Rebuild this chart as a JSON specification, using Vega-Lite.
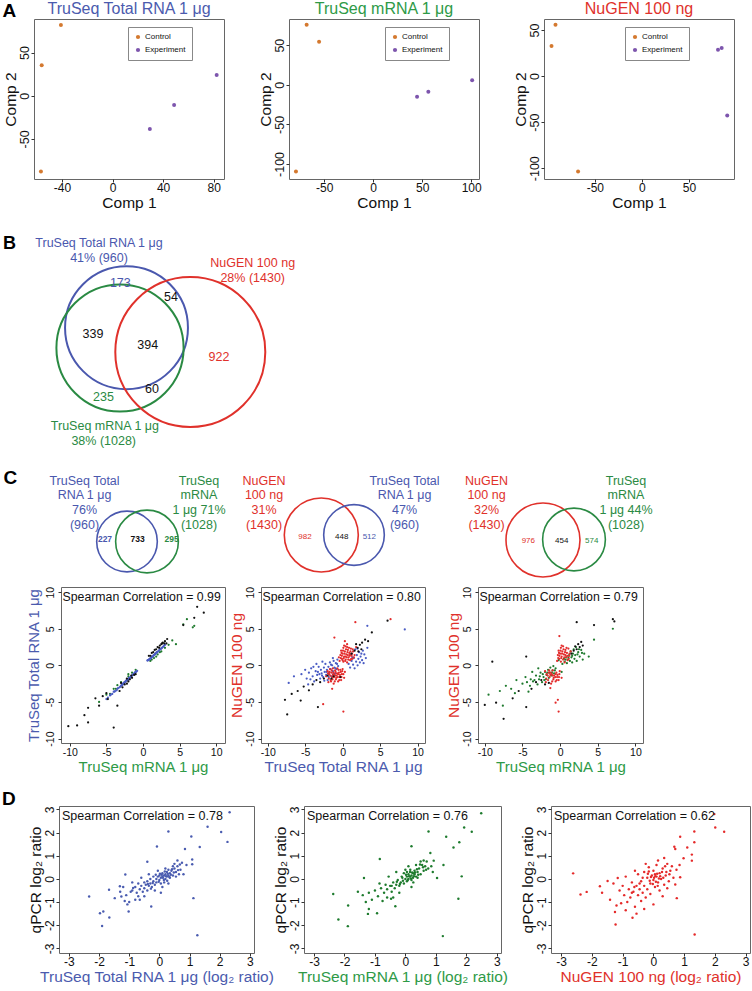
{
  "$schema": "https://vega.github.io/schema/vega-lite/v6.json",
  "background": "white",
  "padding": {"left": 2, "top": 0, "right": 0, "bottom": 0},
  "config": {
    "font": "Liberation Sans",
    "view": {"stroke": "#666", "strokeWidth": 1},
    "axis": {"domain": false, "grid": false, "tickColor": "#333", "tickSize": 3, "tickWidth": 1, "tickCount": 12, "labelColor": "#111", "titleColor": "#111", "titleFontWeight": "normal", "labelOverlap": false, "labelFlush": false, "labelPadding": 0, "titlePadding": 0},
    "axisY": {"labelAngle": -90, "labelAlign": "center", "labelBaseline": "bottom", "labelOverlap": false},
    "axisX": {"labelOverlap": false},
    "legend": {"labelFontSize": 8, "symbolSize": 18, "symbolType": "circle", "rowPadding": 5, "padding": 6, "strokeColor": "#888", "fillColor": "white", "labelColor": "#111", "symbolStrokeWidth": 0, "labelOffset": 3},
    "title": {"fontWeight": "normal"}
  },
  "resolve": {"scale": {"color": "independent", "size": "independent"}, "legend": {"color": "independent", "size": "independent"}},
  "datasets": {
    "pca": [
      {"panel": "A1", "group": "Control", "c1": -40.9, "c2": 81.9},
      {"panel": "A1", "group": "Control", "c1": -56.1, "c2": 35.3},
      {"panel": "A1", "group": "Control", "c1": -56.7, "c2": -87.8},
      {"panel": "A1", "group": "Experiment", "c1": 29.5, "c2": -38.7},
      {"panel": "A1", "group": "Experiment", "c1": 48.7, "c2": -10.9},
      {"panel": "A1", "group": "Experiment", "c1": 82.4, "c2": 24.0},
      {"panel": "A2", "group": "Control", "c1": -67.9, "c2": 75.8},
      {"panel": "A2", "group": "Control", "c1": -55.2, "c2": 54.2},
      {"panel": "A2", "group": "Control", "c1": -78.8, "c2": -109.6},
      {"panel": "A2", "group": "Experiment", "c1": 44.8, "c2": -15.2},
      {"panel": "A2", "group": "Experiment", "c1": 56.3, "c2": -8.9},
      {"panel": "A2", "group": "Experiment", "c1": 101.0, "c2": 5.6},
      {"panel": "A3", "group": "Control", "c1": -91.8, "c2": 55.8},
      {"panel": "A3", "group": "Control", "c1": -96.0, "c2": 32.6},
      {"panel": "A3", "group": "Control", "c1": -67.8, "c2": -103.6},
      {"panel": "A3", "group": "Experiment", "c1": 80.9, "c2": 28.6},
      {"panel": "A3", "group": "Experiment", "c1": 84.8, "c2": 30.5},
      {"panel": "A3", "group": "Experiment", "c1": 90.7, "c2": -42.8}
    ],
    "vennB": [
      {"kind": "circle", "set": "total", "n": 960, "x": 125.5, "y": 327.7},
      {"kind": "circle", "set": "mrna", "n": 1028, "x": 119, "y": 348},
      {"kind": "circle", "set": "nugen", "n": 1430, "x": 189.3, "y": 352},
      {"kind": "label", "set": "total", "x": 98, "y": 243, "t": "TruSeq Total RNA 1 μg"},
      {"kind": "label", "set": "total", "x": 98, "y": 258, "t": "41% (960)"},
      {"kind": "label", "set": "nugen", "x": 251.7, "y": 263.3, "t": "NuGEN 100 ng"},
      {"kind": "label", "set": "nugen", "x": 251.7, "y": 278.3, "t": "28% (1430)"},
      {"kind": "label", "set": "mrna", "x": 103.9, "y": 426, "t": "TruSeq mRNA 1 μg"},
      {"kind": "label", "set": "mrna", "x": 102.7, "y": 441, "t": "38% (1028)"},
      {"kind": "label", "set": "total", "x": 119.3, "y": 282.7, "t": "173"},
      {"kind": "label", "set": "both", "x": 170, "y": 297, "t": "54"},
      {"kind": "label", "set": "both", "x": 92, "y": 334, "t": "339"},
      {"kind": "label", "set": "both", "x": 146.7, "y": 345, "t": "394"},
      {"kind": "label", "set": "nugen", "x": 218, "y": 356.7, "t": "922"},
      {"kind": "label", "set": "both", "x": 151, "y": 389, "t": "60"},
      {"kind": "label", "set": "mrna", "x": 102.4, "y": 396.7, "t": "235"}
    ],
    "vennC": [
      {"kind": "circle", "set": "total", "n": 960, "x": 126, "y": 542.5},
      {"kind": "circle", "set": "mrna", "n": 1028, "x": 146, "y": 542.5},
      {"kind": "circle", "set": "nugen", "n": 1430, "x": 320.3, "y": 536},
      {"kind": "circle", "set": "total", "n": 960, "x": 353, "y": 536},
      {"kind": "circle", "set": "nugen", "n": 1430, "x": 542, "y": 541},
      {"kind": "circle", "set": "mrna", "n": 1028, "x": 573, "y": 540.5},
      {"kind": "label", "set": "total", "x": 83.5, "y": 481.7, "t": "TruSeq Total"},
      {"kind": "label", "set": "total", "x": 83.5, "y": 496.3, "t": "RNA 1 μg"},
      {"kind": "label", "set": "total", "x": 83.5, "y": 511, "t": "76%"},
      {"kind": "label", "set": "total", "x": 83.5, "y": 526, "t": "(960)"},
      {"kind": "label", "set": "mrna", "x": 198, "y": 481.7, "t": "TruSeq"},
      {"kind": "label", "set": "mrna", "x": 198, "y": 496.3, "t": "mRNA"},
      {"kind": "label", "set": "mrna", "x": 198, "y": 511, "t": "1 μg 71%"},
      {"kind": "label", "set": "mrna", "x": 198, "y": 526, "t": "(1028)"},
      {"kind": "label", "set": "nugen", "x": 263, "y": 481.7, "t": "NuGEN"},
      {"kind": "label", "set": "nugen", "x": 263, "y": 496.3, "t": "100 ng"},
      {"kind": "label", "set": "nugen", "x": 263, "y": 511, "t": "31%"},
      {"kind": "label", "set": "nugen", "x": 263, "y": 526, "t": "(1430)"},
      {"kind": "label", "set": "total", "x": 403.5, "y": 481.7, "t": "TruSeq Total"},
      {"kind": "label", "set": "total", "x": 403.5, "y": 496.3, "t": "RNA 1 μg"},
      {"kind": "label", "set": "total", "x": 403.5, "y": 511, "t": "47%"},
      {"kind": "label", "set": "total", "x": 403.5, "y": 526, "t": "(960)"},
      {"kind": "label", "set": "nugen", "x": 485.5, "y": 481.7, "t": "NuGEN"},
      {"kind": "label", "set": "nugen", "x": 485.5, "y": 496.3, "t": "100 ng"},
      {"kind": "label", "set": "nugen", "x": 485.5, "y": 511, "t": "32%"},
      {"kind": "label", "set": "nugen", "x": 485.5, "y": 526, "t": "(1430)"},
      {"kind": "label", "set": "mrna", "x": 625, "y": 481.7, "t": "TruSeq"},
      {"kind": "label", "set": "mrna", "x": 625, "y": 496.3, "t": "mRNA"},
      {"kind": "label", "set": "mrna", "x": 625, "y": 511, "t": "1 μg 44%"},
      {"kind": "label", "set": "mrna", "x": 625, "y": 526, "t": "(1028)"},
      {"kind": "numb", "set": "total", "x": 104, "y": 540, "t": "227"},
      {"kind": "numb", "set": "both", "x": 136.7, "y": 540, "t": "733"},
      {"kind": "numb", "set": "mrna", "x": 170.7, "y": 540, "t": "295"},
      {"kind": "num", "set": "nugen", "x": 304, "y": 537.7, "t": "982"},
      {"kind": "num", "set": "both", "x": 340.7, "y": 537.7, "t": "448"},
      {"kind": "num", "set": "total", "x": 368.3, "y": 537.7, "t": "512"},
      {"kind": "num", "set": "nugen", "x": 527.3, "y": 541.7, "t": "976"},
      {"kind": "num", "set": "both", "x": 560.7, "y": 541.7, "t": "454"},
      {"kind": "num", "set": "mrna", "x": 590.7, "y": 541.7, "t": "574"}
    ],
    "c1": [
      {"g":"g","x":-3,"y":-2.3},{"g":"g","x":-2.5,"y":-2.3},{"g":"g","x":-4,"y":-3.2},{"g":"g","x":-3.5,"y":-2.7},{"g":"g","x":-2.0,"y":-1.5},{"g":"g","x":-1.5,"y":-1.0},{"g":"g","x":-5,"y":-4.0},{"g":"g","x":-4.5,"y":-3.9},{"g":"g","x":-2,"y":-1.2},{"g":"g","x":-1,"y":-0.6},{"g":"g","x":1,"y":0.6},{"g":"g","x":1.5,"y":1.0},{"g":"g","x":2,"y":1.5},{"g":"g","x":2.5,"y":1.9},{"g":"g","x":3,"y":2.4},{"g":"g","x":3.5,"y":2.8},{"g":"g","x":4,"y":3.4},{"g":"g","x":1.2,"y":0.8},{"g":"g","x":1.8,"y":1.2},{"g":"g","x":2.3,"y":1.8},{"g":"g","x":6,"y":6.3},{"g":"g","x":6.8,"y":5.2},{"g":"g","x":5.5,"y":5.6},{"g":"g","x":7,"y":5.4},{"g":"g","x":4.5,"y":2.9},{"g":"g","x":-6,"y":-5.0},{"g":"g","x":-3.7,"y":-3.2},
      {"g":"b","x":-4.5,"y":-4.1},{"g":"b","x":-4.2,"y":-3.9},{"g":"b","x":-4.0,"y":-3.6},{"g":"b","x":-3.8,"y":-3.5},{"g":"b","x":-3.6,"y":-3.4},{"g":"b","x":-3.4,"y":-3.1},{"g":"b","x":-3.2,"y":-3.0},{"g":"b","x":-3.0,"y":-2.8},{"g":"b","x":-2.9,"y":-2.6},{"g":"b","x":-2.8,"y":-2.6},{"g":"b","x":-2.7,"y":-2.5},{"g":"b","x":-2.6,"y":-2.4},{"g":"b","x":-2.5,"y":-2.3},{"g":"b","x":-2.4,"y":-2.2},{"g":"b","x":-2.3,"y":-2.1},{"g":"b","x":-2.2,"y":-2.0},{"g":"b","x":-2.1,"y":-1.9},{"g":"b","x":-2.0,"y":-1.9},{"g":"b","x":-1.9,"y":-1.7},{"g":"b","x":-1.8,"y":-1.7},{"g":"b","x":-1.7,"y":-1.6},{"g":"b","x":-1.6,"y":-1.5},{"g":"b","x":-1.5,"y":-1.4},{"g":"b","x":-1.4,"y":-1.3},{"g":"b","x":-1.3,"y":-1.2},{"g":"b","x":-1.2,"y":-1.1},{"g":"b","x":-1.1,"y":-1.0},{"g":"b","x":-1.0,"y":-0.9},{"g":"b","x":-0.9,"y":-0.85},{"g":"b","x":-0.8,"y":-0.75},
      {"g":"b","x":-4.4,"y":-4.0},{"g":"b","x":-3.9,"y":-3.6},{"g":"b","x":-3.5,"y":-3.2},{"g":"b","x":-3.1,"y":-2.9},{"g":"b","x":-2.85,"y":-2.7},{"g":"b","x":-2.65,"y":-2.45},{"g":"b","x":-2.45,"y":-2.3},{"g":"b","x":-2.25,"y":-2.05},{"g":"b","x":-2.05,"y":-1.95},{"g":"b","x":-1.85,"y":-1.75},{"g":"b","x":-1.65,"y":-1.55},{"g":"b","x":-1.45,"y":-1.35},{"g":"b","x":-1.25,"y":-1.15},{"g":"b","x":-1.05,"y":-0.95},{"g":"b","x":-5.0,"y":-4.6},{"g":"b","x":-4.8,"y":-4.4},
      {"g":"b","x":0.6,"y":0.65},{"g":"b","x":0.7,"y":0.7},{"g":"b","x":0.8,"y":0.8},{"g":"b","x":0.9,"y":0.85},{"g":"b","x":1.0,"y":0.95},{"g":"b","x":1.1,"y":1.0},{"g":"b","x":1.2,"y":1.15},{"g":"b","x":1.3,"y":1.2},{"g":"b","x":1.4,"y":1.3},{"g":"b","x":1.5,"y":1.4},{"g":"b","x":1.6,"y":1.5},{"g":"b","x":1.7,"y":1.6},{"g":"b","x":1.8,"y":1.7},{"g":"b","x":1.9,"y":1.8},{"g":"b","x":2.0,"y":1.85},{"g":"b","x":2.2,"y":2.05},{"g":"b","x":2.4,"y":2.25},{"g":"b","x":2.6,"y":2.4},{"g":"b","x":2.8,"y":2.6},{"g":"b","x":3.0,"y":2.8},
      {"g":"b","x":0.65,"y":0.7},{"g":"b","x":0.85,"y":0.8},{"g":"b","x":1.05,"y":1.0},{"g":"b","x":1.25,"y":1.2},{"g":"b","x":1.45,"y":1.35},{"g":"b","x":1.65,"y":1.55},{"g":"b","x":1.85,"y":1.75},{"g":"b","x":2.1,"y":1.95},{"g":"b","x":2.3,"y":2.15},{"g":"b","x":2.5,"y":2.3},{"g":"b","x":2.7,"y":2.5},{"g":"b","x":2.9,"y":2.7},
      {"g":"k","x":-10.2,"y":-8.3},{"g":"k","x":-9,"y":-8.2},{"g":"k","x":-8,"y":-6.8},{"g":"k","x":-7.5,"y":-5.8},{"g":"k","x":-6.5,"y":-4.5},{"g":"k","x":-6,"y":-5.5},{"g":"k","x":-5.5,"y":-4.2},{"g":"k","x":-5,"y":-3.8},{"g":"k","x":-4.8,"y":-4.6},{"g":"k","x":-4,"y":-8.5},{"g":"k","x":-3.5,"y":-5.5},{"g":"k","x":-3.2,"y":-3.5},{"g":"k","x":-2.8,"y":-3.0},{"g":"k","x":-2.5,"y":-2.6},{"g":"k","x":-2,"y":-2.2},{"g":"k","x":-1.8,"y":-1.9},{"g":"k","x":-1.5,"y":-1.7},{"g":"k","x":-1,"y":-1.2},{"g":"k","x":0.8,"y":1.3},{"g":"k","x":1.2,"y":1.7},{"g":"k","x":1.6,"y":2.1},{"g":"k","x":2,"y":2.5},{"g":"k","x":2.3,"y":2.7},{"g":"k","x":2.7,"y":3.1},{"g":"k","x":3,"y":3.3},{"g":"k","x":3.3,"y":3.6},{"g":"k","x":2.5,"y":2.9},{"g":"k","x":7.4,"y":8},{"g":"k","x":8.3,"y":7.2},{"g":"k","x":7,"y":6.5},{"g":"k","x":5.5,"y":5.5},{"g":"k","x":-7.5,"y":-7.8},{"g":"k","x":-3,"y":-2.4},{"g":"k","x":-2.2,"y":-2.5},
      {"g":"k","x":-2.2,"y":-1.8},{"g":"k","x":-1.6,"y":-1.4},{"g":"k","x":-1.2,"y":-1.3},{"g":"k","x":1.0,"y":1.3},{"g":"k","x":1.4,"y":1.8},{"g":"k","x":1.8,"y":2.2},{"g":"k","x":2.2,"y":2.4},{"g":"k","x":2.9,"y":3.0},{"g":"k","x":3.2,"y":3.0},{"g":"k","x":2.6,"y":3.0}
    ],
    "c2": [
      {"g":"b","x":-5.5,"y":-1.2},{"g":"b","x":-5,"y":-0.6},{"g":"b","x":-4.8,"y":-1.8},{"g":"b","x":-4.5,"y":-1.0},{"g":"b","x":-4.2,"y":-0.4},{"g":"b","x":-4,"y":-1.5},{"g":"b","x":-3.8,"y":-2.2},{"g":"b","x":-3.6,"y":-0.8},{"g":"b","x":-3.4,"y":-1.3},{"g":"b","x":-3.2,"y":-0.2},{"g":"b","x":-3,"y":-1.8},{"g":"b","x":-2.9,"y":-0.6},{"g":"b","x":-2.8,"y":-1.1},{"g":"b","x":-2.6,"y":-1.6},{"g":"b","x":-2.5,"y":-0.3},{"g":"b","x":-2.4,"y":-0.9},{"g":"b","x":-2.3,"y":0.2},{"g":"b","x":-2.2,"y":-1.3},{"g":"b","x":-2.1,"y":-0.6},{"g":"b","x":-2,"y":-2.0},{"g":"b","x":-1.9,"y":-0.2},{"g":"b","x":-1.8,"y":-1.0},{"g":"b","x":-1.7,"y":0.4},{"g":"b","x":-1.6,"y":-0.5},{"g":"b","x":-1.5,"y":-1.5},{"g":"b","x":-1.4,"y":0.0},{"g":"b","x":-1.3,"y":-0.8},{"g":"b","x":-1.2,"y":0.6},{"g":"b","x":-1.1,"y":-0.3},{"g":"b","x":-1.0,"y":-1.1},{"g":"b","x":-0.9,"y":0.3},{"g":"b","x":-0.8,"y":-0.5},{"g":"b","x":-0.7,"y":0.8},{"g":"b","x":-0.6,"y":-0.1},{"g":"b","x":-2.7,"y":0.5},{"g":"b","x":-3.5,"y":0.2},{"g":"b","x":-6.5,"y":-1.5},{"g":"b","x":-7.2,"y":-2.4},{"g":"b","x":-4.6,"y":-2.6},{"g":"b","x":-1.3,"y":1.0},
      {"g":"b","x":-4.3,"y":-1.9},{"g":"b","x":-3.9,"y":-0.2},{"g":"b","x":-3.3,"y":-0.9},{"g":"b","x":-2.75,"y":-1.4},{"g":"b","x":-2.15,"y":-0.9},{"g":"b","x":-1.85,"y":-1.6},{"g":"b","x":-1.55,"y":0.1},{"g":"b","x":-1.25,"y":-1.2},{"g":"b","x":-0.95,"y":-0.4},{"g":"b","x":-0.75,"y":0.2},{"g":"b","x":-2.45,"y":-2.1},{"g":"b","x":-3.1,"y":-1.2},{"g":"b","x":2.5,"y":1.6},{"g":"b","x":1.3,"y":1.1},{"g":"b","x":2.8,"y":0.3},{"g":"b","x":2.0,"y":2.3},
      {"g":"b","x":0.8,"y":0.2},{"g":"b","x":1.0,"y":-0.3},{"g":"b","x":1.2,"y":0.6},{"g":"b","x":1.4,"y":0.1},{"g":"b","x":1.5,"y":1.0},{"g":"b","x":1.6,"y":-0.4},{"g":"b","x":1.8,"y":0.5},{"g":"b","x":1.9,"y":1.4},{"g":"b","x":2.0,"y":0.0},{"g":"b","x":2.1,"y":0.9},{"g":"b","x":2.2,"y":1.8},{"g":"b","x":2.3,"y":0.4},{"g":"b","x":2.4,"y":1.2},{"g":"b","x":2.6,"y":0.7},{"g":"b","x":2.7,"y":2.0},{"g":"b","x":2.9,"y":1.5},{"g":"b","x":3.1,"y":1.0},{"g":"b","x":3.3,"y":2.4},{"g":"b","x":1.1,"y":1.5},{"g":"b","x":1.7,"y":2.2},{"g":"b","x":3.3,"y":5.4},{"g":"b","x":8.3,"y":4.9},
      {"g":"r","x":-0.4,"y":0.6},{"g":"r","x":-0.3,"y":1.4},{"g":"r","x":-0.2,"y":2.0},{"g":"r","x":-0.1,"y":0.9},{"g":"r","x":0.0,"y":1.6},{"g":"r","x":0.1,"y":2.4},{"g":"r","x":0.1,"y":0.5},{"g":"r","x":0.2,"y":1.2},{"g":"r","x":0.3,"y":1.9},{"g":"r","x":0.4,"y":0.8},{"g":"r","x":0.4,"y":2.6},{"g":"r","x":0.5,"y":1.5},{"g":"r","x":0.6,"y":0.4},{"g":"r","x":0.7,"y":2.1},{"g":"r","x":0.8,"y":1.1},{"g":"r","x":0.9,"y":1.7},{"g":"r","x":1.0,"y":0.7},{"g":"r","x":1.1,"y":2.3},{"g":"r","x":1.2,"y":1.3},{"g":"r","x":1.3,"y":0.9},{"g":"r","x":1.4,"y":1.9},{"g":"r","x":1.6,"y":1.4},{"g":"r","x":1.8,"y":2.5},{"g":"r","x":0.3,"y":3.3},{"g":"r","x":-0.5,"y":1.1},{"g":"r","x":0.6,"y":2.9},{"g":"r","x":-1.1,"y":3.8},{"g":"r","x":1.7,"y":5.9},{"g":"r","x":6.4,"y":6.3},
      {"g":"r","x":-0.25,"y":1.0},{"g":"r","x":-0.15,"y":1.7},{"g":"r","x":0.0,"y":0.7},{"g":"r","x":0.05,"y":2.0},{"g":"r","x":0.15,"y":1.0},{"g":"r","x":0.25,"y":1.6},{"g":"r","x":0.35,"y":0.6},{"g":"r","x":0.45,"y":2.2},{"g":"r","x":0.55,"y":1.1},{"g":"r","x":0.65,"y":1.8},{"g":"r","x":0.75,"y":0.8},{"g":"r","x":0.85,"y":2.4},{"g":"r","x":0.95,"y":1.3},{"g":"r","x":1.05,"y":1.9},{"g":"r","x":1.15,"y":0.9},{"g":"r","x":1.25,"y":1.6},{"g":"r","x":1.35,"y":2.2},{"g":"r","x":1.5,"y":1.1},{"g":"r","x":0.2,"y":2.7},{"g":"r","x":0.7,"y":1.4},{"g":"r","x":0.4,"y":1.2},{"g":"r","x":1.0,"y":1.5},{"g":"r","x":-0.1,"y":1.3},{"g":"r","x":0.6,"y":2.5},
      {"g":"r","x":-2.2,"y":-1.5},{"g":"r","x":-2.0,"y":-0.8},{"g":"r","x":-1.9,"y":-2.3},{"g":"r","x":-1.8,"y":-1.2},{"g":"r","x":-1.7,"y":-0.5},{"g":"r","x":-1.6,"y":-2.0},{"g":"r","x":-1.5,"y":-1.0},{"g":"r","x":-1.4,"y":-1.6},{"g":"r","x":-1.3,"y":-0.4},{"g":"r","x":-1.2,"y":-2.5},{"g":"r","x":-1.1,"y":-1.2},{"g":"r","x":-1.0,"y":-0.7},{"g":"r","x":-0.9,"y":-1.9},{"g":"r","x":-0.8,"y":-1.4},{"g":"r","x":-0.7,"y":-0.4},{"g":"r","x":-0.6,"y":-2.2},{"g":"r","x":-0.5,"y":-1.0},{"g":"r","x":-0.4,"y":-1.6},{"g":"r","x":-0.3,"y":-0.6},{"g":"r","x":-0.2,"y":-2.0},{"g":"r","x":-0.1,"y":-1.2},{"g":"r","x":0.0,"y":-0.5},{"g":"r","x":0.2,"y":-1.7},{"g":"r","x":0.3,"y":-0.9},{"g":"r","x":-1.4,"y":-3.2},{"g":"r","x":0.1,"y":-6.3},{"g":"r","x":-2.6,"y":-5.3},
      {"g":"r","x":-1.95,"y":-1.1},{"g":"r","x":-1.85,"y":-1.8},{"g":"r","x":-1.75,"y":-0.9},{"g":"r","x":-1.65,"y":-1.4},{"g":"r","x":-1.55,"y":-2.2},{"g":"r","x":-1.45,"y":-0.7},{"g":"r","x":-1.35,"y":-1.9},{"g":"r","x":-1.25,"y":-1.0},{"g":"r","x":-1.15,"y":-1.6},{"g":"r","x":-1.05,"y":-2.2},{"g":"r","x":-0.95,"y":-0.9},{"g":"r","x":-0.85,"y":-1.7},{"g":"r","x":-0.75,"y":-1.1},{"g":"r","x":-0.65,"y":-1.6},{"g":"r","x":-0.55,"y":-0.6},{"g":"r","x":-0.45,"y":-2.0},{"g":"r","x":-0.35,"y":-1.3},{"g":"r","x":-0.25,"y":-0.9},{"g":"r","x":-0.15,"y":-1.6},{"g":"r","x":-0.05,"y":-0.8},{"g":"r","x":0.1,"y":-1.2},{"g":"r","x":-1.0,"y":-1.4},{"g":"r","x":-0.6,"y":-1.2},{"g":"r","x":-1.3,"y":-1.3},
      {"g":"k","x":-7.7,"y":-4.7},{"g":"k","x":-7.4,"y":-6.7},{"g":"k","x":-6.8,"y":-3.9},{"g":"k","x":-6,"y":-3.5},{"g":"k","x":-5.6,"y":-4.8},{"g":"k","x":-5.2,"y":-2.9},{"g":"k","x":-4.5,"y":-3.4},{"g":"k","x":-4,"y":-2.6},{"g":"k","x":-3.3,"y":-5.7},{"g":"k","x":-3.5,"y":-2.0},{"g":"k","x":-3,"y":-2.3},{"g":"k","x":-2.5,"y":-1.8},{"g":"k","x":-2,"y":-1.4},{"g":"k","x":-1.5,"y":-1.8},{"g":"k","x":-1.2,"y":-1.5},{"g":"k","x":1.2,"y":1.6},{"g":"k","x":1.6,"y":2.0},{"g":"k","x":2.0,"y":2.4},{"g":"k","x":2.3,"y":2.8},{"g":"k","x":2.6,"y":3.1},{"g":"k","x":3.0,"y":3.5},{"g":"k","x":3.4,"y":3.3},{"g":"k","x":3.9,"y":4.5},{"g":"k","x":2.1,"y":1.9},{"g":"k","x":1.8,"y":2.9},{"g":"k","x":2.5,"y":2.2},{"g":"k","x":6,"y":6.1},{"g":"k","x":-0.3,"y":-1.6}
    ],
    "c3": [
      {"g":"g","x":-4,"y":-2.8},{"g":"g","x":-3.6,"y":-2.2},{"g":"g","x":-3.2,"y":-1.4},{"g":"g","x":-3,"y":-2.6},{"g":"g","x":-2.8,"y":-1.9},{"g":"g","x":-2.6,"y":-1.0},{"g":"g","x":-2.4,"y":-2.3},{"g":"g","x":-2.2,"y":-1.6},{"g":"g","x":-2,"y":-0.9},{"g":"g","x":-1.9,"y":-1.9},{"g":"g","x":-1.8,"y":-1.3},{"g":"g","x":-1.6,"y":-0.6},{"g":"g","x":-1.5,"y":-1.7},{"g":"g","x":-1.4,"y":-1.0},{"g":"g","x":-1.3,"y":-0.3},{"g":"g","x":-1.2,"y":-1.4},{"g":"g","x":-1.0,"y":-0.7},{"g":"g","x":-0.9,"y":-0.1},{"g":"g","x":-0.8,"y":-1.1},{"g":"g","x":-0.6,"y":-0.4},{"g":"g","x":0.6,"y":0.5},{"g":"g","x":0.8,"y":1.1},{"g":"g","x":0.9,"y":0.3},{"g":"g","x":1.0,"y":0.8},{"g":"g","x":1.2,"y":1.4},{"g":"g","x":1.3,"y":0.6},{"g":"g","x":1.4,"y":1.9},{"g":"g","x":1.5,"y":1.1},{"g":"g","x":1.6,"y":0.4},{"g":"g","x":1.7,"y":1.6},{"g":"g","x":1.8,"y":2.2},{"g":"g","x":1.9,"y":0.9},{"g":"g","x":2.0,"y":1.4},{"g":"g","x":2.1,"y":2.5},{"g":"g","x":2.2,"y":0.6},{"g":"g","x":2.4,"y":1.8},{"g":"g","x":2.6,"y":1.2},{"g":"g","x":2.8,"y":2.1},{"g":"g","x":3.0,"y":0.8},{"g":"g","x":3.2,"y":1.6},{"g":"g","x":-5,"y":-2.5},{"g":"g","x":-5.8,"y":-2.0},{"g":"g","x":-6.5,"y":-3.2},{"g":"g","x":-7.2,"y":-2.8},{"g":"g","x":-6,"y":-3.8},{"g":"g","x":-4.6,"y":-1.6},{"g":"g","x":-4.2,"y":-3.6},{"g":"g","x":-3.7,"y":-0.9},{"g":"g","x":-2.9,"y":-0.4},{"g":"g","x":-8,"y":-3.5},{"g":"g","x":-9.5,"y":-4},{"g":"g","x":-7.6,"y":-5.5},{"g":"g","x":3.8,"y":1.2},{"g":"g","x":7,"y":5},{"g":"g","x":4.5,"y":3.5},{"g":"g","x":0.2,"y":-0.9},{"g":"g","x":-0.2,"y":0.7},{"g":"g","x":0.3,"y":0.2},
      {"g":"g","x":-3.4,"y":-2.0},{"g":"g","x":-2.7,"y":-1.5},{"g":"g","x":-2.3,"y":-1.2},{"g":"g","x":-2.1,"y":-2.0},{"g":"g","x":-1.7,"y":-1.0},{"g":"g","x":-1.1,"y":-1.0},{"g":"g","x":-0.7,"y":-0.7},{"g":"g","x":0.7,"y":0.8},{"g":"g","x":1.1,"y":1.1},{"g":"g","x":1.6,"y":1.3},{"g":"g","x":2.3,"y":1.5},{"g":"g","x":2.5,"y":2.2},{"g":"g","x":2.9,"y":1.7},{"g":"g","x":-3.9,"y":-1.9},{"g":"g","x":-4.4,"y":-2.3},{"g":"g","x":0.5,"y":0.9},
      {"g":"r","x":-0.4,"y":0.6},{"g":"r","x":-0.3,"y":1.4},{"g":"r","x":-0.2,"y":2.0},{"g":"r","x":-0.1,"y":0.9},{"g":"r","x":0.0,"y":1.6},{"g":"r","x":0.1,"y":2.4},{"g":"r","x":0.1,"y":0.5},{"g":"r","x":0.2,"y":1.2},{"g":"r","x":0.3,"y":1.9},{"g":"r","x":0.4,"y":0.8},{"g":"r","x":0.4,"y":2.6},{"g":"r","x":0.5,"y":1.5},{"g":"r","x":0.6,"y":0.4},{"g":"r","x":0.7,"y":2.1},{"g":"r","x":0.8,"y":1.1},{"g":"r","x":0.9,"y":1.7},{"g":"r","x":1.0,"y":0.7},{"g":"r","x":1.1,"y":2.3},{"g":"r","x":1.2,"y":1.3},{"g":"r","x":1.4,"y":1.9},{"g":"r","x":-0.1,"y":4.0},
      {"g":"r","x":-0.25,"y":1.0},{"g":"r","x":-0.15,"y":1.7},{"g":"r","x":0.05,"y":2.0},{"g":"r","x":0.15,"y":1.0},{"g":"r","x":0.25,"y":1.6},{"g":"r","x":0.45,"y":2.2},{"g":"r","x":0.55,"y":1.1},{"g":"r","x":0.65,"y":1.8},{"g":"r","x":0.85,"y":2.4},{"g":"r","x":0.95,"y":1.3},{"g":"r","x":1.15,"y":0.9},{"g":"r","x":1.25,"y":1.6},{"g":"r","x":0.2,"y":2.7},{"g":"r","x":0.7,"y":1.4},{"g":"r","x":-0.1,"y":1.3},
      {"g":"r","x":-2.0,"y":-0.8},{"g":"r","x":-1.9,"y":-2.3},{"g":"r","x":-1.8,"y":-1.2},{"g":"r","x":-1.6,"y":-2.0},{"g":"r","x":-1.5,"y":-1.0},{"g":"r","x":-1.4,"y":-1.6},{"g":"r","x":-1.2,"y":-2.5},{"g":"r","x":-1.1,"y":-1.2},{"g":"r","x":-1.0,"y":-0.7},{"g":"r","x":-0.9,"y":-1.9},{"g":"r","x":-0.8,"y":-1.4},{"g":"r","x":-0.6,"y":-2.2},{"g":"r","x":-0.5,"y":-1.0},{"g":"r","x":-0.4,"y":-1.6},{"g":"r","x":-0.2,"y":-2.0},{"g":"r","x":-0.1,"y":-1.2},{"g":"r","x":0.2,"y":-1.7},{"g":"r","x":-0.6,"y":-5.1},{"g":"r","x":-0.2,"y":-6.3},{"g":"r","x":-0.3,"y":-4.7},{"g":"r","x":-1.3,"y":-3.1},
      {"g":"r","x":-1.85,"y":-1.8},{"g":"r","x":-1.65,"y":-1.4},{"g":"r","x":-1.45,"y":-0.7},{"g":"r","x":-1.25,"y":-1.0},{"g":"r","x":-1.05,"y":-2.2},{"g":"r","x":-0.85,"y":-1.7},{"g":"r","x":-0.65,"y":-1.6},{"g":"r","x":-0.45,"y":-2.0},{"g":"r","x":-0.35,"y":-1.3},{"g":"r","x":-0.15,"y":-1.6},{"g":"r","x":-0.05,"y":-0.8},{"g":"r","x":-1.0,"y":-1.4},{"g":"r","x":-0.6,"y":-1.2},{"g":"r","x":-1.3,"y":-1.3},
      {"g":"k","x":1.5,"y":1.6},{"g":"k","x":1.8,"y":2.0},{"g":"k","x":2.0,"y":2.6},{"g":"k","x":2.2,"y":2.2},{"g":"k","x":2.4,"y":2.9},{"g":"k","x":2.6,"y":2.5},{"g":"k","x":2.8,"y":3.2},{"g":"k","x":3.0,"y":2.7},{"g":"k","x":2.2,"y":5.9},{"g":"k","x":4.5,"y":5.5},{"g":"k","x":7,"y":6.3},{"g":"k","x":7.2,"y":6},{"g":"k","x":-10,"y":-5.4},{"g":"k","x":-8.5,"y":-5.1},{"g":"k","x":-7.5,"y":-7.3},{"g":"k","x":-6.3,"y":-4.5},{"g":"k","x":-5.5,"y":-3.5},{"g":"k","x":-4.5,"y":-5.7},{"g":"k","x":-3.8,"y":-3.2},{"g":"k","x":-2.5,"y":-2.0},{"g":"k","x":-1.5,"y":-2.4},{"g":"k","x":-4.5,"y":1.2},{"g":"k","x":-9,"y":0.5},{"g":"k","x":-2.0,"y":-2.6},{"g":"k","x":-3.2,"y":-2.3}
    ],
    "d1": [
      {"x":2.33,"y":2.88},{"x":1.6,"y":2.25},{"x":2.05,"y":2.03},{"x":0.3,"y":2.05},{"x":1.06,"y":1.83},{"x":2.26,"y":1.6},{"x":1.34,"y":1.38},{"x":0.85,"y":1.29},{"x":-0.08,"y":1.4},{"x":1.09,"y":0.84},{"x":1.09,"y":0.63},{"x":-0.4,"y":0.74},{"x":-1.13,"y":0.19},{"x":1.13,"y":-0.83},{"x":1.26,"y":-2.43},{"x":-2.33,"y":-0.76},{"x":-1.67,"y":-0.47},{"x":-1.86,"y":-1.41},{"x":-1.9,"y":-2.03},{"x":-1.66,"y":-1.67},{"x":-1.97,"y":-1.48},{"x":-0.27,"y":-1.19},{"x":-1.02,"y":-1.41},{"x":-1.26,"y":-0.76},{"x":-1.48,"y":-0.83},{"x":-1.06,"y":-1.1},{"x":-1.31,"y":-0.32},{"x":-0.87,"y":-0.39},
      {"x":-0.9,"y":-0.5},{"x":-0.8,"y":-0.35},{"x":-0.75,"y":-0.6},{"x":-0.7,"y":-0.2},{"x":-0.65,"y":-0.45},{"x":-0.6,"y":-0.3},{"x":-0.55,"y":-0.55},{"x":-0.5,"y":-0.15},{"x":-0.5,"y":-0.4},{"x":-0.45,"y":-0.25},{"x":-0.4,"y":-0.5},{"x":-0.4,"y":-0.1},{"x":-0.35,"y":-0.3},{"x":-0.3,"y":-0.2},{"x":-0.3,"y":0.0},{"x":-0.25,"y":-0.35},{"x":-0.2,"y":-0.1},{"x":-0.2,"y":0.1},{"x":-0.15,"y":-0.25},{"x":-0.1,"y":0.0},{"x":-0.1,"y":-0.15},{"x":-0.05,"y":0.1},{"x":0.0,"y":-0.05},{"x":0.0,"y":0.15},{"x":0.05,"y":0.05},{"x":0.05,"y":-0.2},{"x":0.1,"y":0.1},{"x":0.1,"y":0.25},{"x":0.15,"y":-0.05},{"x":0.15,"y":0.15},{"x":0.2,"y":0.2},{"x":0.2,"y":0.0},{"x":0.25,"y":0.3},{"x":0.25,"y":0.1},{"x":0.3,"y":0.15},{"x":0.3,"y":0.4},{"x":0.35,"y":0.05},{"x":0.35,"y":0.25},{"x":0.4,"y":0.35},{"x":0.45,"y":0.15},{"x":0.5,"y":0.45},{"x":0.55,"y":0.3},{"x":0.6,"y":0.55},{"x":0.7,"y":0.4},{"x":0.75,"y":0.7},{"x":-1.1,"y":-0.7},{"x":-1.2,"y":-0.35},{"x":-1.0,"y":-1.0},{"x":-0.6,"y":0.05},{"x":-0.9,"y":-0.15},{"x":0.1,"y":-0.35},{"x":-0.05,"y":0.35},{"x":0.2,"y":0.45},{"x":0.5,"y":0.65},{"x":0.65,"y":0.2},{"x":-0.35,"y":0.2},{"x":-1.3,"y":-0.55},{"x":-0.15,"y":-0.5},{"x":0.05,"y":-0.6},{"x":-0.65,"y":-0.9},{"x":0.9,"y":0.6},{"x":0.8,"y":0.2},{"x":0.6,"y":0.8},{"x":-0.8,"y":-0.9},{"x":-0.95,"y":-0.55},{"x":-1.15,"y":-0.95},{"x":-0.7,"y":-0.75},{"x":0.45,"y":0.55},{"x":0.3,"y":-0.2},{"x":-0.5,"y":-0.75},
      {"x":0.12,"y":0.05},{"x":0.18,"y":0.32},{"x":0.22,"y":0.12},{"x":0.28,"y":0.22},{"x":0.33,"y":0.08},{"x":0.38,"y":0.18},{"x":0.08,"y":0.18},{"x":-0.02,"y":-0.12},{"x":0.02,"y":0.22},{"x":0.42,"y":0.42},{"x":0.48,"y":0.28},{"x":0.62,"y":0.38},{"x":-0.22,"y":-0.18},{"x":-0.28,"y":-0.42},{"x":-0.38,"y":-0.22},{"x":-0.12,"y":0.18},{"x":0.16,"y":-0.15},{"x":0.26,"y":-0.08},{"x":0.55,"y":0.1},{"x":0.68,"y":0.62}
    ],
    "d2": [
      {"x":2.49,"y":2.84},{"x":1.93,"y":2.22},{"x":2.18,"y":2.04},{"x":0.76,"y":2.05},{"x":1.34,"y":1.82},{"x":1.77,"y":1.58},{"x":1.58,"y":1.36},{"x":0.2,"y":1.41},{"x":0.82,"y":1.12},{"x":-0.84,"y":0.86},{"x":0.93,"y":0.79},{"x":1.25,"y":0.6},{"x":1.85,"y":0.11},{"x":1.04,"y":0.04},{"x":-1.36,"y":0.04},{"x":-1.56,"y":-0.55},{"x":-2.37,"y":-0.65},{"x":-1.88,"y":-1.15},{"x":-1.23,"y":-1.51},{"x":-0.93,"y":-1.48},{"x":-2.2,"y":-1.75},{"x":-1.89,"y":-2.04},{"x":1.74,"y":-0.86},{"x":1.23,"y":-2.47},{"x":-0.33,"y":-1.18},{"x":-0.47,"y":-0.86},
      {"x":-0.8,"y":-0.4},{"x":-0.7,"y":-0.6},{"x":-0.65,"y":-0.25},{"x":-0.6,"y":-0.45},{"x":-0.5,"y":-0.3},{"x":-0.45,"y":-0.55},{"x":-0.4,"y":-0.15},{"x":-0.35,"y":-0.4},{"x":-0.3,"y":-0.25},{"x":-0.25,"y":-0.05},{"x":-0.2,"y":-0.3},{"x":-0.15,"y":-0.15},{"x":-0.1,"y":0.05},{"x":-0.05,"y":-0.2},{"x":0.0,"y":0.0},{"x":0.05,"y":0.1},{"x":0.05,"y":-0.1},{"x":0.1,"y":0.2},{"x":0.1,"y":0.0},{"x":0.15,"y":0.1},{"x":0.15,"y":0.3},{"x":0.2,"y":-0.05},{"x":0.2,"y":0.15},{"x":0.25,"y":0.25},{"x":0.25,"y":0.05},{"x":0.3,"y":0.2},{"x":0.3,"y":0.35},{"x":0.35,"y":0.1},{"x":0.4,"y":0.3},{"x":0.45,"y":0.45},{"x":0.5,"y":0.2},{"x":0.55,"y":0.6},{"x":0.6,"y":0.35},{"x":0.65,"y":0.55},{"x":0.7,"y":0.75},{"x":0.75,"y":0.45},{"x":-0.9,"y":-0.75},{"x":-1.0,"y":-0.5},{"x":-1.1,"y":-0.9},{"x":-1.2,"y":-0.6},{"x":-0.55,"y":0.1},{"x":-0.3,"y":0.3},{"x":0.0,"y":0.4},{"x":0.2,"y":-0.35},{"x":0.4,"y":0.05},{"x":0.6,"y":0.8},{"x":0.85,"y":0.55},{"x":-0.2,"y":-0.6},{"x":-0.75,"y":-0.95},{"x":-1.3,"y":-1.0},{"x":-1.4,"y":-0.7},{"x":0.1,"y":0.55},{"x":-0.05,"y":0.25},{"x":0.35,"y":0.6},{"x":-0.6,"y":-0.8},{"x":0.9,"y":0.3},{"x":-1.2,"y":-1.3},{"x":-0.4,"y":-0.8},{"x":0.5,"y":0.75},{"x":-0.85,"y":-0.2},
      {"x":0.12,"y":0.12},{"x":0.18,"y":0.02},{"x":0.22,"y":0.28},{"x":0.08,"y":-0.05},{"x":0.02,"y":0.18},{"x":0.28,"y":0.12},{"x":0.32,"y":0.28},{"x":0.38,"y":0.42},{"x":-0.08,"y":-0.08},{"x":-0.12,"y":0.1},{"x":-0.18,"y":-0.22},{"x":0.42,"y":0.18},{"x":0.58,"y":0.5},{"x":0.48,"y":0.62},{"x":0.68,"y":0.4},{"x":-0.28,"y":-0.12},{"x":0.16,"y":0.4},{"x":0.26,"y":-0.15},{"x":-0.45,"y":-0.3},{"x":0.05,"y":0.3}
    ],
    "d3": [
      {"x":1.98,"y":2.8},{"x":2.01,"y":2.22},{"x":2.3,"y":2.04},{"x":1.33,"y":2.05},{"x":0.87,"y":1.82},{"x":0.68,"y":1.39},{"x":0.71,"y":1.29},{"x":1.1,"y":1.36},{"x":1.33,"y":1.58},{"x":1.25,"y":1.05},{"x":0.98,"y":0.89},{"x":1.25,"y":0.79},{"x":-2.61,"y":0.24},{"x":-2.37,"y":-0.67},{"x":-2.17,"y":-0.56},{"x":-1.74,"y":-0.32},{"x":-1.67,"y":-0.6},{"x":-1.16,"y":0.04},{"x":-1.49,"y":-0.09},{"x":-1.41,"y":-0.9},{"x":-1.25,"y":-1.43},{"x":-1.2,"y":-1.15},{"x":-1.23,"y":-1.97},{"x":-0.68,"y":-1.68},{"x":0.76,"y":-0.83},{"x":1.34,"y":-2.4},{"x":0.0,"y":-1.1},{"x":0.71,"y":-0.24},{"x":0.87,"y":0.07},
      {"x":-1.0,"y":-0.3},{"x":-0.95,"y":-0.7},{"x":-0.9,"y":0.1},{"x":-0.85,"y":-1.0},{"x":-0.8,"y":-0.45},{"x":-0.75,"y":-0.8},{"x":-0.7,"y":-0.15},{"x":-0.65,"y":-0.55},{"x":-0.6,"y":-1.2},{"x":-0.55,"y":-0.3},{"x":-0.5,"y":-0.7},{"x":-0.5,"y":0.2},{"x":-0.45,"y":-0.45},{"x":-0.4,"y":-0.95},{"x":-0.4,"y":-0.1},{"x":-0.35,"y":-0.6},{"x":-0.3,"y":0.3},{"x":-0.3,"y":-0.3},{"x":-0.25,"y":-0.8},{"x":-0.2,"y":0.05},{"x":-0.2,"y":-0.45},{"x":-0.15,"y":0.5},{"x":-0.1,"y":-0.2},{"x":-0.05,"y":0.15},{"x":0.0,"y":-0.05},{"x":0.0,"y":0.35},{"x":0.05,"y":-0.35},{"x":0.1,"y":0.1},{"x":0.1,"y":0.6},{"x":0.15,"y":-0.15},{"x":0.2,"y":0.25},{"x":0.2,"y":-0.5},{"x":0.25,"y":0.0},{"x":0.3,"y":0.45},{"x":0.35,"y":-0.25},{"x":0.4,"y":0.15},{"x":0.45,"y":0.65},{"x":0.5,"y":-0.1},{"x":0.55,"y":0.35},{"x":0.6,"y":0.55},{"x":0.65,"y":0.05},{"x":0.75,"y":0.4},{"x":-1.1,"y":-0.5},{"x":-1.05,"y":-1.05},{"x":-0.6,"y":0.35},{"x":0.3,"y":-0.75},{"x":-0.3,"y":-1.3},{"x":0.15,"y":0.8},{"x":-0.7,"y":-0.6},{"x":-0.1,"y":-0.65},{"x":0.45,"y":-0.4},{"x":-0.55,"y":-1.5},{"x":0.85,"y":0.6},{"x":-0.25,"y":0.65},{"x":0.05,"y":0.2},{"x":-0.9,"y":-1.35},{"x":0.35,"y":0.9},{"x":-1.3,"y":-0.2},
      {"x":0.02,"y":0.05},{"x":0.08,"y":-0.12},{"x":0.12,"y":0.22},{"x":0.18,"y":0.02},{"x":-0.08,"y":0.08},{"x":-0.12,"y":-0.08},{"x":0.06,"y":0.12},{"x":0.22,"y":0.12},{"x":-0.02,"y":-0.22},{"x":0.28,"y":0.3},{"x":-0.18,"y":0.22},{"x":0.32,"y":0.05},{"x":0.14,"y":-0.3},{"x":-0.35,"y":0.05},{"x":0.42,"y":0.3},{"x":0.38,"y":0.55},{"x":-0.45,"y":-0.2},{"x":-0.62,"y":-0.35},{"x":0.52,"y":0.2},{"x":-0.15,"y":0.32}
    ],
    "empty": []
  },
  "spacing": 11,
  "vconcat": [
    {
      "title": {"text": "A", "anchor": "start", "frame": "bounds", "fontSize": 19, "fontWeight": "bold", "color": "#000", "offset": -20},
      "bounds": "flush",
      "spacing": 65,
      "resolve": {"scale": {"color": "independent"}, "legend": {"color": "independent"}},
      "hconcat": [
        {
          "width": 190, "height": 160,
          "title": {"text": "TruSeq Total RNA 1 μg", "color": "#4B5BAE", "fontSize": 16, "offset": 2},
          "data": {"name": "pca"},
          "transform": [{"filter": "datum.panel == 'A1'"}],
          "mark": {"type": "point", "filled": true, "size": 16, "opacity": 1, "shape": "circle", "strokeWidth": 0},
          "encoding": {
            "x": {"field": "c1", "type": "quantitative", "scale": {"domain": [-62.2, 88.2], "nice": false, "zero": false}, "axis": {"values": [-40, 0, 40, 80], "title": "Comp 1", "labelFontSize": 12, "titleFontSize": 15.5, "titlePadding": 2, "labelExpr": "'' + datum.value"}},
            "y": {"field": "c2", "type": "quantitative", "scale": {"domain": [-96.5, 88.8], "nice": false, "zero": false}, "axis": {"values": [-50, 0, 50], "title": "Comp 2", "labelFontSize": 12.5, "titleFontSize": 15.5, "labelExpr": "'' + datum.value"}},
            "color": {"field": "group", "type": "nominal", "scale": {"domain": ["Control", "Experiment"], "range": ["#D4792F", "#7D55AD"]}, "legend": {"orient": "none", "legendX": 94, "legendY": 8, "title": null}}
          }
        },
        {
          "width": 190, "height": 160,
          "title": {"text": "TruSeq mRNA 1 μg", "color": "#2E9A47", "fontSize": 16, "offset": 2},
          "data": {"name": "pca"},
          "transform": [{"filter": "datum.panel == 'A2'"}],
          "mark": {"type": "point", "filled": true, "size": 16, "opacity": 1, "shape": "circle", "strokeWidth": 0},
          "encoding": {
            "x": {"field": "c1", "type": "quantitative", "scale": {"domain": [-85.9, 108], "nice": false, "zero": false}, "axis": {"values": [-50, 0, 50, 100], "title": "Comp 1", "labelFontSize": 12, "titleFontSize": 15.5, "titlePadding": 2, "labelExpr": "'' + datum.value"}},
            "y": {"field": "c2", "type": "quantitative", "scale": {"domain": [-119, 83], "nice": false, "zero": false}, "axis": {"values": [-100, -50, 0, 50], "title": "Comp 2", "labelFontSize": 12.5, "titleFontSize": 15.5, "labelExpr": "'' + datum.value"}},
            "color": {"field": "group", "type": "nominal", "scale": {"domain": ["Control", "Experiment"], "range": ["#D4792F", "#7D55AD"]}, "legend": {"orient": "none", "legendX": 96, "legendY": 8, "title": null}}
          }
        },
        {
          "width": 190, "height": 160,
          "title": {"text": "NuGEN 100 ng", "color": "#E0312B", "fontSize": 16, "offset": 2},
          "data": {"name": "pca"},
          "transform": [{"filter": "datum.panel == 'A3'"}],
          "mark": {"type": "point", "filled": true, "size": 16, "opacity": 1, "shape": "circle", "strokeWidth": 0},
          "encoding": {
            "x": {"field": "c1", "type": "quantitative", "scale": {"domain": [-104, 97.9], "nice": false, "zero": false}, "axis": {"values": [-50, 0, 50], "title": "Comp 1", "labelFontSize": 12, "titleFontSize": 15.5, "titlePadding": 2, "labelExpr": "'' + datum.value"}},
            "y": {"field": "c2", "type": "quantitative", "scale": {"domain": [-111.7, 62], "nice": false, "zero": false}, "axis": {"values": [-100, -50, 0, 50], "title": "Comp 2", "labelFontSize": 12.5, "titleFontSize": 15.5, "labelExpr": "'' + datum.value"}},
            "color": {"field": "group", "type": "nominal", "scale": {"domain": ["Control", "Experiment"], "range": ["#D4792F", "#7D55AD"]}, "legend": {"orient": "none", "legendX": 81, "legendY": 8, "title": null}}
          }
        }
      ]
    },
    {
      "title": {"text": "B", "anchor": "start", "frame": "group", "fontSize": 18, "fontWeight": "bold", "color": "#000", "offset": -31, "dx": -31},
      "width": 297, "height": 232,
      "view": {"stroke": null},
      "data": {"name": "vennB"},
      "encoding": {
        "x": {"field": "x", "type": "quantitative", "scale": {"domain": [33, 330], "nice": false, "zero": false}, "axis": null},
        "y": {"field": "y", "type": "quantitative", "scale": {"domain": [222, 454], "reverse": true, "nice": false, "zero": false}, "axis": null},
        "color": {"field": "set", "type": "nominal", "scale": {"domain": ["total", "mrna", "nugen", "both"], "range": ["#4A58AE", "#2A8A43", "#E0312B", "#111111"]}, "legend": null}
      },
      "layer": [
        {"transform": [{"filter": "datum.kind == 'circle'"}], "mark": {"type": "point", "shape": "circle", "filled": false, "strokeWidth": 2, "opacity": 1}, "encoding": {"size": {"field": "n", "type": "quantitative", "scale": {"domain": [0, 1430], "range": [0, 22500]}, "legend": null}}},
        {"transform": [{"filter": "datum.kind == 'label'"}], "mark": {"type": "text", "fontSize": 12.5, "baseline": "middle", "align": "center"}, "encoding": {"text": {"field": "t"}}}
      ]
    },
    {
      "spacing": 14,
      "resolve": {"scale": {"color": "independent", "size": "independent"}, "legend": {"color": "independent", "size": "independent"}},
      "vconcat": [
        {
          "title": {"text": "C", "anchor": "start", "frame": "bounds", "fontSize": 19, "fontWeight": "bold", "color": "#000", "offset": -23, "dx": -22},
          "spacing": 0,
          "resolve": {"scale": {"color": "independent", "size": "independent"}, "legend": {"color": "independent", "size": "independent"}},
          "vconcat": [
            {
              "width": 700, "height": 120,
              "view": {"stroke": null},
              "data": {"name": "vennC"},
              "encoding": {
                "x": {"field": "x", "type": "quantitative", "scale": {"domain": [33, 733], "nice": false, "zero": false}, "axis": null},
                "y": {"field": "y", "type": "quantitative", "scale": {"domain": [466, 586], "reverse": true, "nice": false, "zero": false}, "axis": null},
                "color": {"field": "set", "type": "nominal", "scale": {"domain": ["total", "mrna", "nugen", "both"], "range": ["#4A58AE", "#2A8A43", "#E0312B", "#111111"]}, "legend": null}
              },
              "layer": [
                {"transform": [{"filter": "datum.kind == 'circle'"}], "mark": {"type": "point", "shape": "circle", "filled": false, "strokeWidth": 1.6, "opacity": 1}, "encoding": {"size": {"field": "n", "type": "quantitative", "scale": {"domain": [0, 1430], "range": [0, 5476]}, "legend": null}}},
                {"transform": [{"filter": "datum.kind == 'label'"}], "mark": {"type": "text", "fontSize": 12.5, "baseline": "middle", "align": "center"}, "encoding": {"text": {"field": "t"}}},
                {"transform": [{"filter": "datum.kind == 'numb'"}], "mark": {"type": "text", "fontSize": 8.5, "fontWeight": "bold", "baseline": "middle", "align": "center"}, "encoding": {"text": {"field": "t"}}},
                {"transform": [{"filter": "datum.kind == 'num'"}], "mark": {"type": "text", "fontSize": 8, "baseline": "middle", "align": "center"}, "encoding": {"text": {"field": "t"}}}
              ]
            },
            {
              "bounds": "flush",
              "spacing": 0,
              "hconcat": [
                {"width": 27, "height": 10, "view": {"stroke": null}, "data": {"name": "empty"}, "mark": "point"},
                {
                  "width": 164, "height": 156,
                  "layer": [
                    {"data": {"name": "c1"}, "mark": {"type": "point", "filled": true, "size": 5, "opacity": 1, "shape": "circle", "strokeWidth": 0},
                     "encoding": {
                       "x": {"field": "x", "type": "quantitative", "scale": {"domain": [-11.2, 11.2], "nice": false, "zero": false}, "axis": {"values": [-10, -5, 0, 5, 10], "title": "TruSeq mRNA 1 μg", "titleColor": "#2E9A47", "labelFontSize": 10.5, "titleFontSize": 15, "labelPadding": 1, "titlePadding": 1.5, "labelOverlap": false, "labelExpr": "'' + datum.value"}},
                       "y": {"field": "y", "type": "quantitative", "scale": {"domain": [-10.6, 10.7], "nice": false, "zero": false}, "axis": {"values": [-10, -5, 0, 5, 10], "title": "TruSeq Total RNA 1 μg", "titleColor": "#4B5BAE", "labelFontSize": 10.5, "titleFontSize": 15, "labelPadding": 3, "titlePadding": 4, "labelOverlap": false, "labelExpr": "'' + datum.value"}},
                       "color": {"field": "g", "type": "nominal", "scale": {"domain": ["k", "b", "g", "r"], "range": ["#111111", "#4A5CC4", "#1F7A2E", "#E32B2B"]}, "legend": null}
                     }},
                    {"data": {"values": [{"t": "Spearman Correlation = 0.99"}]}, "mark": {"type": "text", "align": "left", "baseline": "middle", "fontSize": 12.3, "dx": 1.5, "color": "#111"}, "encoding": {"x": {"datum": -11.2}, "y": {"datum": 9.4}, "text": {"field": "t"}}}
                  ]
                },
                {"width": 36, "height": 10, "view": {"stroke": null}, "data": {"name": "empty"}, "mark": "point"},
                {
                  "width": 164, "height": 156,
                  "layer": [
                    {"data": {"name": "c2"}, "mark": {"type": "point", "filled": true, "size": 5, "opacity": 1, "shape": "circle", "strokeWidth": 0},
                     "encoding": {
                       "x": {"field": "x", "type": "quantitative", "scale": {"domain": [-10.9, 11], "nice": false, "zero": false}, "axis": {"values": [-10, -5, 0, 5, 10], "title": "TruSeq Total RNA 1 μg", "titleColor": "#4B5BAE", "labelFontSize": 10.5, "titleFontSize": 15.5, "labelPadding": 1, "titlePadding": 1.5, "labelOverlap": false, "labelExpr": "'' + datum.value"}},
                       "y": {"field": "y", "type": "quantitative", "scale": {"domain": [-10.6, 10.7], "nice": false, "zero": false}, "axis": {"values": [-10, -5, 0, 5, 10], "title": "NuGEN 100 ng", "titleColor": "#E0312B", "labelFontSize": 10.5, "titleFontSize": 15.5, "labelPadding": 3, "titlePadding": 1, "labelOverlap": false, "labelExpr": "'' + datum.value"}},
                       "color": {"field": "g", "type": "nominal", "scale": {"domain": ["k", "b", "g", "r"], "range": ["#111111", "#4A5CC4", "#1F7A2E", "#E32B2B"]}, "legend": null}
                     }},
                    {"data": {"values": [{"t": "Spearman Correlation = 0.80"}]}, "mark": {"type": "text", "align": "left", "baseline": "middle", "fontSize": 12.3, "dx": 1.5, "color": "#111"}, "encoding": {"x": {"datum": -10.9}, "y": {"datum": 9.4}, "text": {"field": "t"}}}
                  ]
                },
                {"width": 53, "height": 10, "view": {"stroke": null}, "data": {"name": "empty"}, "mark": "point"},
                {
                  "width": 165, "height": 156,
                  "layer": [
                    {"data": {"name": "c3"}, "mark": {"type": "point", "filled": true, "size": 5, "opacity": 1, "shape": "circle", "strokeWidth": 0},
                     "encoding": {
                       "x": {"field": "x", "type": "quantitative", "scale": {"domain": [-10.9, 11], "nice": false, "zero": false}, "axis": {"values": [-10, -5, 0, 5, 10], "title": "TruSeq mRNA 1 μg", "titleColor": "#2E9A47", "labelFontSize": 10.5, "titleFontSize": 15, "labelPadding": 1, "titlePadding": 1.5, "labelOverlap": false, "labelExpr": "'' + datum.value"}},
                       "y": {"field": "y", "type": "quantitative", "scale": {"domain": [-10.6, 10.7], "nice": false, "zero": false}, "axis": {"values": [-10, -5, 0, 5, 10], "title": "NuGEN 100 ng", "titleColor": "#E0312B", "labelFontSize": 10.5, "titleFontSize": 15.5, "labelPadding": 3, "titlePadding": 1, "labelOverlap": false, "labelExpr": "'' + datum.value"}},
                       "color": {"field": "g", "type": "nominal", "scale": {"domain": ["k", "b", "g", "r"], "range": ["#111111", "#4A5CC4", "#1F7A2E", "#E32B2B"]}, "legend": null}
                     }},
                    {"data": {"values": [{"t": "Spearman Correlation = 0.79"}]}, "mark": {"type": "text", "align": "left", "baseline": "middle", "fontSize": 12.3, "dx": 1.5, "color": "#111"}, "encoding": {"x": {"datum": -10.9}, "y": {"datum": 9.4}, "text": {"field": "t"}}}
                  ]
                }
              ]
            }
          ]
        },
        {
          "title": {"text": "D", "anchor": "start", "frame": "bounds", "fontSize": 19, "fontWeight": "bold", "color": "#000", "offset": -3, "dx": -25.5},
          "bounds": "flush",
          "spacing": 0,
          "hconcat": [
            {"width": 25, "height": 10, "view": {"stroke": null}, "data": {"name": "empty"}, "mark": "point"},
            {
              "width": 195, "height": 147,
              "layer": [
                {"data": {"name": "d1"}, "mark": {"type": "point", "filled": true, "size": 6, "opacity": 1, "shape": "circle", "strokeWidth": 0, "color": "#4A5CB0"},
                 "encoding": {
                   "x": {"field": "x", "type": "quantitative", "scale": {"domain": [-3.33, 3.14], "nice": false, "zero": false}, "axis": {"values": [-3, -2, -1, 0, 1, 2, 3], "tickCount": 12, "title": "TruSeq Total RNA 1 μg (log₂ ratio)", "titleColor": "#4B5BAE", "labelFontSize": 12, "titleFontSize": 15.5, "titlePadding": 2, "labelOverlap": false, "labelExpr": "'' + datum.value"}},
                   "y": {"field": "y", "type": "quantitative", "scale": {"domain": [-3.2, 3.15], "nice": false, "zero": false}, "axis": {"values": [-3, -2, -1, 0, 1, 2, 3], "tickCount": 12, "title": "qPCR log₂ ratio", "labelFontSize": 12, "titleFontSize": 15.5, "labelOverlap": false, "labelExpr": "'' + datum.value"}}
                 }},
                {"data": {"values": [{"t": "Spearman Correlation = 0.78"}]}, "mark": {"type": "text", "align": "left", "baseline": "middle", "fontSize": 12.5, "dx": 3, "color": "#111"}, "encoding": {"x": {"datum": -3.33}, "y": {"datum": 2.7}, "text": {"field": "t"}}}
              ]
            },
            {"width": 50, "height": 10, "view": {"stroke": null}, "data": {"name": "empty"}, "mark": "point"},
            {
              "width": 197, "height": 147,
              "layer": [
                {"data": {"name": "d2"}, "mark": {"type": "point", "filled": true, "size": 6, "opacity": 1, "shape": "circle", "strokeWidth": 0, "color": "#1E7B2E"},
                 "encoding": {
                   "x": {"field": "x", "type": "quantitative", "scale": {"domain": [-3.33, 3.14], "nice": false, "zero": false}, "axis": {"values": [-3, -2, -1, 0, 1, 2, 3], "tickCount": 12, "title": "TruSeq mRNA 1 μg (log₂ ratio)", "titleColor": "#2E9A47", "labelFontSize": 12, "titleFontSize": 15.5, "titlePadding": 2, "labelOverlap": false, "labelExpr": "'' + datum.value"}},
                   "y": {"field": "y", "type": "quantitative", "scale": {"domain": [-3.2, 3.15], "nice": false, "zero": false}, "axis": {"values": [-3, -2, -1, 0, 1, 2, 3], "tickCount": 12, "title": "qPCR log₂ ratio", "labelFontSize": 12, "titleFontSize": 15.5, "labelOverlap": false, "labelExpr": "'' + datum.value"}}
                 }},
                {"data": {"values": [{"t": "Spearman Correlation = 0.76"}]}, "mark": {"type": "text", "align": "left", "baseline": "middle", "fontSize": 12.5, "dx": 3, "color": "#111"}, "encoding": {"x": {"datum": -3.33}, "y": {"datum": 2.7}, "text": {"field": "t"}}}
              ]
            },
            {"width": 50, "height": 10, "view": {"stroke": null}, "data": {"name": "empty"}, "mark": "point"},
            {
              "width": 199, "height": 147,
              "layer": [
                {"data": {"name": "d3"}, "mark": {"type": "point", "filled": true, "size": 6, "opacity": 1, "shape": "circle", "strokeWidth": 0, "color": "#E52A2A"},
                 "encoding": {
                   "x": {"field": "x", "type": "quantitative", "scale": {"domain": [-3.33, 3.14], "nice": false, "zero": false}, "axis": {"values": [-3, -2, -1, 0, 1, 2, 3], "tickCount": 12, "title": "NuGEN 100 ng (log₂ ratio)", "titleColor": "#E0312B", "labelFontSize": 12, "titleFontSize": 15.5, "titlePadding": 2, "labelOverlap": false, "labelExpr": "'' + datum.value"}},
                   "y": {"field": "y", "type": "quantitative", "scale": {"domain": [-3.2, 3.15], "nice": false, "zero": false}, "axis": {"values": [-3, -2, -1, 0, 1, 2, 3], "tickCount": 12, "title": "qPCR log₂ ratio", "labelFontSize": 12, "titleFontSize": 15.5, "labelOverlap": false, "labelExpr": "'' + datum.value"}}
                 }},
                {"data": {"values": [{"t": "Spearman Correlation = 0.62"}]}, "mark": {"type": "text", "align": "left", "baseline": "middle", "fontSize": 12.5, "dx": 3, "color": "#111"}, "encoding": {"x": {"datum": -3.33}, "y": {"datum": 2.7}, "text": {"field": "t"}}}
              ]
            }
          ]
        }
      ]
    }
  ]
}
